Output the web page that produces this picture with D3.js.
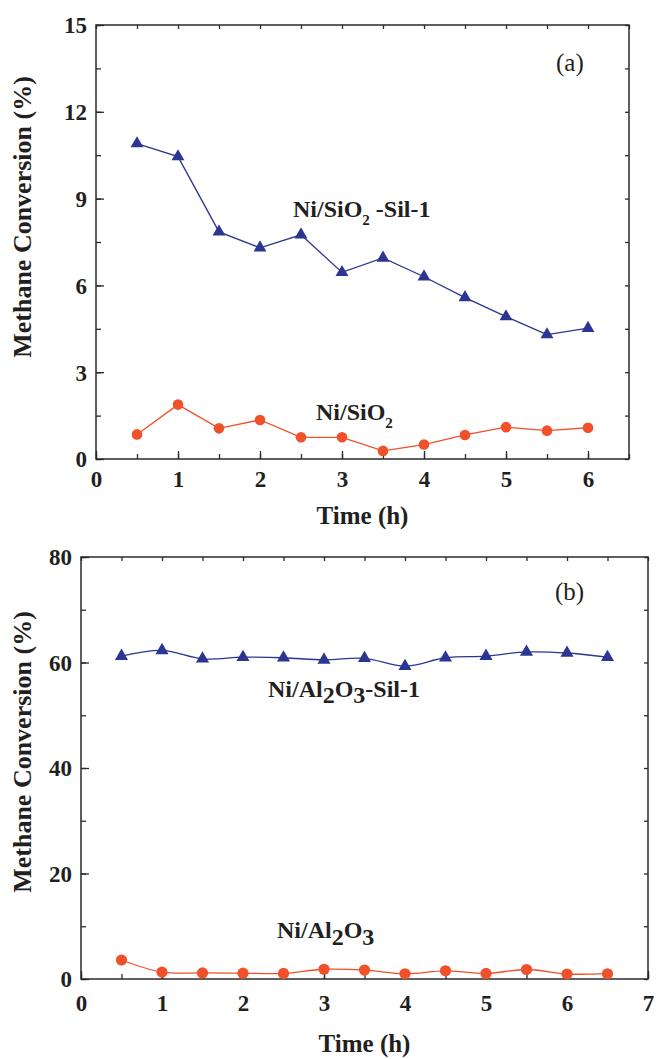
<!DOCTYPE html>
<html>
<head>
<meta charset="utf-8">
<script src="https://cdn.jsdelivr.net/npm/d3@7"></script>
<style>
  body { margin: 0; background: #fff; }
  svg text { font-family: "Liberation Serif", "Times New Roman", serif; fill: #231f20; }
</style>
</head>
<body>
<svg id="chart" width="659" height="1059"></svg>
<script>
// panel (a): Ni/SiO2 catalysts
var timeA = [0.5, 1, 1.5, 2, 2.5, 3, 3.5, 4, 4.5, 5, 5.5, 6];
var silA = [10.9, 10.45, 7.85, 7.3, 7.75, 6.45, 6.95, 6.3, 5.58, 4.92, 4.3, 4.52];
var niSiO2 = [0.85, 1.88, 1.06, 1.35, 0.75, 0.75, 0.28, 0.5, 0.83, 1.1, 0.98, 1.08];
var xTicksA = [0, 1, 2, 3, 4, 5, 6];
var yTicksA = [0, 3, 6, 9, 12, 15];

// panel (b): Ni/Al2O3 catalysts
var timeB = [0.5, 1, 1.5, 2, 2.5, 3, 3.5, 4, 4.5, 5, 5.5, 6, 6.5];
var silB = [61.2, 62.3, 60.7, 61.0, 60.9, 60.5, 60.8, 59.3, 60.9, 61.2, 62.0, 61.8, 61.0];
var niAl2O3 = [3.6, 1.3, 1.15, 1.1, 1.05, 1.85, 1.7, 1.0, 1.55, 1.05, 1.8, 0.95, 1.0];
var xTicksB = [0, 1, 2, 3, 4, 5, 6, 7];
var yTicksB = [0, 20, 40, 60, 80];

var BLUE = '#2b3592';
var ORANGE = '#f0502a';
var AXIS = '#2a2a2a';

var svg = d3.select('#chart');

var drawPanel = function (p) {
  var x = d3.scaleLinear().domain(p.xDomain).range([p.left, p.right]);
  var y = d3.scaleLinear().domain(p.yDomain).range([p.bottom, p.top]);
  var g = svg.append('g');

  // minor ticks (no labels) on all four sides
  var styleAxis = function (sel) {
    sel.select('.domain').remove();
    sel.selectAll('line').attr('stroke', AXIS).attr('stroke-width', 1.3);
    sel.selectAll('text').remove();
  };
  g.append('g').attr('transform', 'translate(0,' + p.bottom + ')')
      .call(d3.axisBottom(x).tickValues(p.xMinor).tickSize(-5)).call(styleAxis);
  g.append('g').attr('transform', 'translate(' + p.left + ',0)')
      .call(d3.axisLeft(y).tickValues(p.yMinor).tickSize(-5)).call(styleAxis);
  g.append('g').attr('transform', 'translate(0,' + p.top + ')')
      .call(d3.axisTop(x).tickValues(p.xMinor).tickSize(-4)).call(styleAxis);
  g.append('g').attr('transform', 'translate(' + p.right + ',0)')
      .call(d3.axisRight(y).tickValues(p.yMinor).tickSize(-4)).call(styleAxis);

  // major ticks + labels on bottom and left
  var xAxis = g.append('g').attr('transform', 'translate(0,' + p.bottom + ')')
      .call(d3.axisBottom(x).tickValues(p.xTicks).tickSize(-8).tickPadding(p.xPad).tickFormat(d3.format('d')));
  var yAxis = g.append('g').attr('transform', 'translate(' + p.left + ',0)')
      .call(d3.axisLeft(y).tickValues(p.yTicks).tickSize(-8).tickPadding(9).tickFormat(d3.format('d')));
  [xAxis, yAxis].forEach(function (a) {
    a.select('.domain').remove();
    a.selectAll('line').attr('stroke', AXIS).attr('stroke-width', 1.3);
    a.selectAll('text')
        .style('font-family', '"Liberation Serif", serif')
        .style('font-size', '23px')
        .style('font-weight', 'bold')
        .attr('fill', '#231f20');
  });
  yAxis.selectAll('text').attr('dy', '0.34em');

  // frame
  g.append('rect')
      .attr('x', p.left).attr('y', p.top)
      .attr('width', p.right - p.left).attr('height', p.bottom - p.top)
      .attr('fill', 'none').attr('stroke', AXIS).attr('stroke-width', 1.5);

  // series
  var curve = p.smooth ? d3.curveCatmullRom.alpha(0.5) : d3.curveLinear;
  var addSeries = function (xs, ys, color, marker) {
    var pts = xs.map(function (t, i) { return [t, ys[i]]; });
    var line = d3.line().curve(curve)
        .x(function (d) { return x(d[0]); })
        .y(function (d) { return y(d[1]); });
    g.append('path').datum(pts)
        .attr('d', line).attr('fill', 'none')
        .attr('stroke', color).attr('stroke-width', 1.3);
    if (marker === 'triangle') {
      g.selectAll(null).data(pts).enter().append('path')
          .attr('d', d3.symbol(d3.symbolTriangle, p.triSize))
          .attr('transform', function (d) { return 'translate(' + x(d[0]) + ',' + y(d[1]) + ')'; })
          .attr('fill', color);
    } else {
      g.selectAll(null).data(pts).enter().append('circle')
          .attr('cx', function (d) { return x(d[0]); })
          .attr('cy', function (d) { return y(d[1]); })
          .attr('r', p.radius)
          .attr('fill', color);
    }
  };
  addSeries(p.time, p.sil, BLUE, 'triangle');
  addSeries(p.time, p.base, ORANGE, 'circle');

  // axis titles
  g.append('text')
      .attr('x', (p.left + p.right) / 2).attr('y', p.xTitleY)
      .attr('text-anchor', 'middle')
      .style('font-size', '25px').style('font-weight', 'bold')
      .text('Time (h)');
  g.append('text')
      .attr('transform', 'translate(31,' + p.yTitleMid + ') rotate(-90)')
      .attr('text-anchor', 'middle')
      .style('font-size', '26px').style('font-weight', 'bold')
      .text('Methane Conversion (%)');

  // panel letter
  g.append('text')
      .attr('x', p.letterX).attr('y', p.letterY)
      .style('font-size', '25px')
      .text(p.letter);

  return g;
};

var gA = drawPanel({
  left: 96, right: 629, top: 25, bottom: 459,
  xDomain: [0, 6.5], yDomain: [0, 15],
  xTicks: xTicksA, yTicks: yTicksA,
  xMinor: d3.range(0, 6.51, 0.5), yMinor: d3.range(0, 15.01, 1.5),
  xPad: 12, xTitleY: 524, yTitleMid: 217,
  time: timeA, sil: silA, base: niSiO2,
  smooth: false, triSize: 72, radius: 5.3,
  letter: '(a)', letterX: 556, letterY: 71
});

var gB = drawPanel({
  left: 81, right: 648, top: 557, bottom: 979,
  xDomain: [0, 7], yDomain: [0, 80],
  xTicks: xTicksB, yTicks: yTicksB,
  xMinor: d3.range(0, 7.01, 0.5), yMinor: d3.range(0, 80.01, 10),
  xPad: 16, xTitleY: 1052, yTitleMid: 752,
  time: timeB, sil: silB, base: niAl2O3,
  smooth: true, triSize: 74, radius: 5.6,
  letter: '(b)', letterX: 555, letterY: 600
});

// series labels with subscripts
var label = function (g, x, y, parts) {
  var t = g.append('text').attr('x', x).attr('y', y)
      .style('font-size', '24px').style('font-weight', 'bold');
  parts.forEach(function (pt) {
    t.append('tspan')
        .attr('dy', pt.dy || 0)
        .style('font-size', pt.size || '24px')
        .text(pt.text);
  });
};
label(gA, 293, 217, [
  {text: 'Ni/SiO'}, {text: '2', dy: 8, size: '15px'}, {text: ' -Sil-1', dy: -8}
]);
label(gA, 316, 420, [
  {text: 'Ni/SiO'}, {text: '2', dy: 8, size: '15px'}
]);
label(gB, 268, 697, [
  {text: 'Ni/Al'}, {text: '2', dy: 6}, {text: 'O', dy: -6}, {text: '3', dy: 6}, {text: '-Sil-1', dy: -6}
]);
label(gB, 277, 938, [
  {text: 'Ni/Al'}, {text: '2', dy: 7}, {text: 'O', dy: -7}, {text: '3', dy: 7}
]);
</script>
</body>
</html>
